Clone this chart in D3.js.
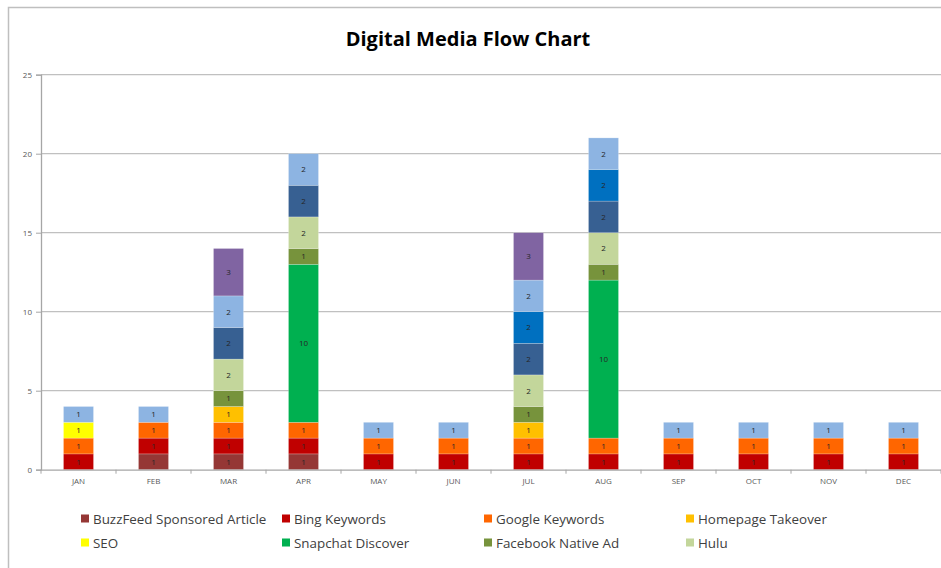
<!DOCTYPE html>
<html><head><meta charset="utf-8">
<script src="https://cdn.jsdelivr.net/npm/d3@7"></script>
<style>body{margin:0;background:#fff}svg{display:block}</style>
</head><body>
<svg id="c" width="941" height="568"></svg>
<script>
const months = ["JAN","FEB","MAR","APR","MAY","JUN","JUL","AUG","SEP","OCT","NOV","DEC"];
const seriesNames = ["BuzzFeed Sponsored Article","Bing Keywords","Google Keywords","Homepage Takeover","SEO","Snapchat Discover","Facebook Native Ad","Hulu","Series 9","Series 10","Series 11","Series 12"];
const seriesColors = ["#953735","#C00000","#FF6600","#FFC000","#FFFF00","#00B050","#77933C","#C3D69B","#376092","#0070C0","#8DB4E2","#8064A2"];
const buzzfeed  = [0,1,1,1,0,0,0,0,0,0,0,0];
const bing      = [1,1,1,1,1,1,1,1,1,1,1,1];
const google    = [1,1,1,1,1,1,1,1,1,1,1,1];
const homepage  = [0,0,1,0,0,0,1,0,0,0,0,0];
const seo       = [1,0,0,0,0,0,0,0,0,0,0,0];
const snapchat  = [0,0,0,10,0,0,0,10,0,0,0,0];
const facebook  = [0,0,1,1,0,0,1,1,0,0,0,0];
const hulu      = [0,0,2,2,0,0,2,2,0,0,0,0];
const series9   = [0,0,2,2,0,0,2,2,0,0,0,0];
const series10  = [0,0,0,0,0,0,2,2,0,0,0,0];
const series11  = [1,1,2,2,1,1,2,2,1,1,1,1];
const series12  = [0,0,3,0,0,0,3,0,0,0,0,0];
const yTicks = [0,5,10,15,20,25];
const legendShown = 8;

const allSeries = [buzzfeed,bing,google,homepage,seo,snapchat,facebook,hulu,series9,series10,series11,series12];
const rows = months.map((m,i)=>{const r={month:m}; seriesNames.forEach((s,j)=>r[s]=allSeries[j][i]); return r;});
const stacked = d3.stack().keys(seriesNames)(rows);

const svg = d3.select("#c");
const font = "'Open Sans', Lato, sans-serif";
// outer border
svg.append("rect").attr("x",8.5).attr("y",7.5).attr("width",960).attr("height",600)
  .attr("fill","none").attr("stroke","#bfbfbf").attr("stroke-width",1.5);

const x0=41, x1=941, yTop=74.7, yBot=469.7;
const x = d3.scaleBand().domain(months).range([x0,x1]).paddingInner(0.6).paddingOuter(0.3);
const y = d3.scaleLinear().domain([0,25]).range([yBot,yTop]);

// gridlines
svg.append("g").selectAll("line").data(yTicks.filter(t=>t>0)).join("line")
  .attr("x1",x0).attr("x2",x1).attr("y1",d=>y(d)).attr("y2",d=>y(d))
  .attr("stroke","#c0c0c0").attr("stroke-width",1.3);

// y axis
const ya = svg.append("g").attr("transform",`translate(${x0},0)`)
  .call(d3.axisLeft(y).tickValues(yTicks).tickSize(5).tickPadding(4));
ya.select(".domain").attr("stroke","#a6a6a6").attr("stroke-width",1.3);
ya.selectAll(".tick line").attr("stroke","#a6a6a6");
ya.selectAll("text").attr("font-family",font).attr("font-size",8).attr("fill","#595959");

// bars
const groups = svg.append("g").selectAll("g").data(stacked).join("g")
  .attr("fill",(d,i)=>seriesColors[i]);
groups.selectAll("rect").data(d=>d.filter(p=>p[1]-p[0]>0)).join("rect")
  .attr("x",d=>x(d.data.month)).attr("width",x.bandwidth())
  .attr("y",d=>y(d[1])).attr("height",d=>y(d[0])-y(d[1]))
  .attr("stroke","#ffffff").attr("stroke-opacity",0.35).attr("stroke-width",0.6);
groups.selectAll("text").data(d=>d.filter(p=>p[1]-p[0]>0)).join("text")
  .attr("x",d=>x(d.data.month)+x.bandwidth()/2).attr("y",d=>(y(d[0])+y(d[1]))/2)
  .attr("dy","0.35em").attr("text-anchor","middle")
  .attr("font-family",font).attr("font-size",8).attr("fill","#262626")
  .text(d=>d[1]-d[0]);

// x axis
const xa = svg.append("g").attr("transform",`translate(0,${yBot})`)
  .call(d3.axisBottom(x).tickSize(0).tickPadding(9));
xa.select(".domain").attr("stroke","#a6a6a6").attr("stroke-width",1.3);
xa.selectAll("text").attr("font-family",font).attr("font-size",8).attr("fill","#595959");
const step = x.step();
svg.append("g").selectAll("line").data(d3.range(months.length+1)).join("line")
  .attr("x1",d=>x0+d*step).attr("x2",d=>x0+d*step).attr("y1",yBot).attr("y2",yBot+4)
  .attr("stroke","#a6a6a6");

// title
svg.append("text").attr("x",468).attr("y",46).attr("text-anchor","middle")
  .attr("font-family",font).attr("font-weight","bold").attr("font-size",20).attr("fill","#000")
  .text("Digital Media Flow Chart");

// legend
const legCols=[81,282,484,686], legRows=[519,543];
const lg = svg.append("g").selectAll("g").data(seriesNames.slice(0,legendShown)).join("g")
  .attr("transform",(d,i)=>`translate(${legCols[i%4]},${legRows[Math.floor(i/4)]})`);
lg.append("rect").attr("x",0).attr("y",-4.5).attr("width",8).attr("height",8)
  .attr("fill",(d,i)=>seriesColors[i]);
lg.append("text").attr("x",12).attr("y",0).attr("dy","0.35em")
  .attr("font-family",font).attr("font-size",13.4).attr("fill","#404040").text(d=>d);
</script>
</body></html>
